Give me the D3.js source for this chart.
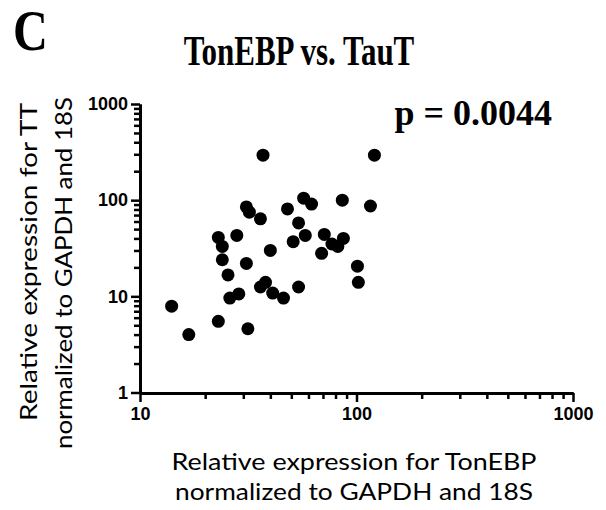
<!DOCTYPE html>
<html><head><meta charset="utf-8">
<script src="https://cdn.jsdelivr.net/npm/d3@7"></script>
<style>html,body{margin:0;padding:0;background:#fff;}</style>
</head><body>
<svg id="c" width="606" height="510"></svg>
<script>
// TonEBP (x) values
const tonebp = [37,121,31,32,36,23,28,24,40,24,31,25.5,36,38,41,26,28.6,14,23,31.5,16.8,57,62,86,116,48,54,58,71,51,69,77,82,87,101,102,54,46];
// TauT (y) values
const taut = [294,294,85,75,64,41,43,33,30,24,22,16.7,12.5,14,10.8,9.6,10.6,7.9,5.5,4.6,4,105,91,100,87,81,58,43,44,37,28,35,33,40,20.6,14,12.5,9.6];
const xMajor = [10,100,1000];
const yMajor = [1,10,100,1000];
const xMinor = [20,30,40,50,60,70,80,90,200,300,400,500,600,700,800,900];
const yMinor = [2,3,4,5,6,7,8,9,20,30,40,50,60,70,80,90,200,300,400,500,600,700,800,900];
const title = "TonEBP vs. TauT";
const panel = "C";
const pText = "p = 0.0044";
const xLabel = ["Relative expression for TonEBP","normalized to GAPDH and 18S"];
const yLabel = ["Relative expression for TT","normalized to GAPDH and 18S"];

const svg = d3.select("#c");
const x = d3.scaleLog().domain([10,1000]).range([140,573]);
const y = d3.scaleLog().domain([1,1000]).range([392.5,104]);

const tickFont = "'Liberation Sans', Arial, sans-serif";
function styleAxis(g){
  g.select(".domain").attr("stroke","#000").attr("stroke-width",3);
  g.selectAll(".tick line").attr("stroke","#000").attr("stroke-width",2.5);
  g.selectAll(".tick text").attr("font-family",tickFont).attr("font-weight","bold").attr("font-size",18).attr("fill","#000");
}
// minor ticks
svg.append("g").attr("transform","translate(0,393)")
  .call(d3.axisBottom(x).tickValues(xMinor).tickSize(6).tickSizeOuter(0).tickFormat(""))
  .call(styleAxis);
svg.append("g").attr("transform","translate(140,0)")
  .call(d3.axisLeft(y).tickValues(yMinor).tickSize(6).tickSizeOuter(0).tickFormat(""))
  .call(styleAxis);
// major ticks
svg.append("g").attr("transform","translate(0,393)")
  .call(d3.axisBottom(x).tickValues(xMajor).tickSize(9).tickSizeOuter(0).tickPadding(5).tickFormat(d3.format("d")))
  .call(styleAxis);
svg.append("g").attr("transform","translate(140,0)")
  .call(d3.axisLeft(y).tickValues(yMajor).tickSize(9).tickSizeOuter(0).tickPadding(3).tickFormat(d3.format("d")))
  .call(styleAxis);

// points
svg.append("g").selectAll("circle").data(tonebp.map((v,i)=>[v,taut[i]])).join("circle")
  .attr("cx",d=>x(d[0])).attr("cy",d=>y(d[1])).attr("r",6.5).attr("fill","#000");

const serif = "'Liberation Serif','Times New Roman',serif";
svg.append("text").attr("transform","translate(13,50) scale(1.05,1.22)").attr("font-family",serif).attr("font-weight","bold").attr("font-size",46).text(panel);
svg.append("text").attr("transform","translate(299,65) scale(1,1.35)").attr("text-anchor","middle").attr("font-family",serif).attr("font-weight","bold").attr("font-size",31)
  .text(title);
svg.append("text").attr("x",552).attr("y",125).attr("text-anchor","end").attr("font-family",serif).attr("font-weight","bold").attr("font-size",36).text(pText);

const sans = "Lato, 'Open Sans', sans-serif";
const xl = [[354,470,365],[354,500,358]];
xLabel.forEach((t,i)=>{
  svg.append("text").attr("x",xl[i][0]).attr("y",xl[i][1]).attr("text-anchor","middle")
    .attr("font-family",sans).attr("font-size",23).attr("textLength",xl[i][2]).attr("lengthAdjust","spacingAndGlyphs").text(t);
});
const yl = [[37,262,318],[72,273,352]];
yLabel.forEach((t,i)=>{
  svg.append("text").attr("transform",`translate(${yl[i][0]},${yl[i][1]}) rotate(-90)`).attr("text-anchor","middle")
    .attr("font-family",sans).attr("font-size",23).attr("textLength",yl[i][2]).attr("lengthAdjust","spacingAndGlyphs").text(t);
});
</script>
</body></html>
